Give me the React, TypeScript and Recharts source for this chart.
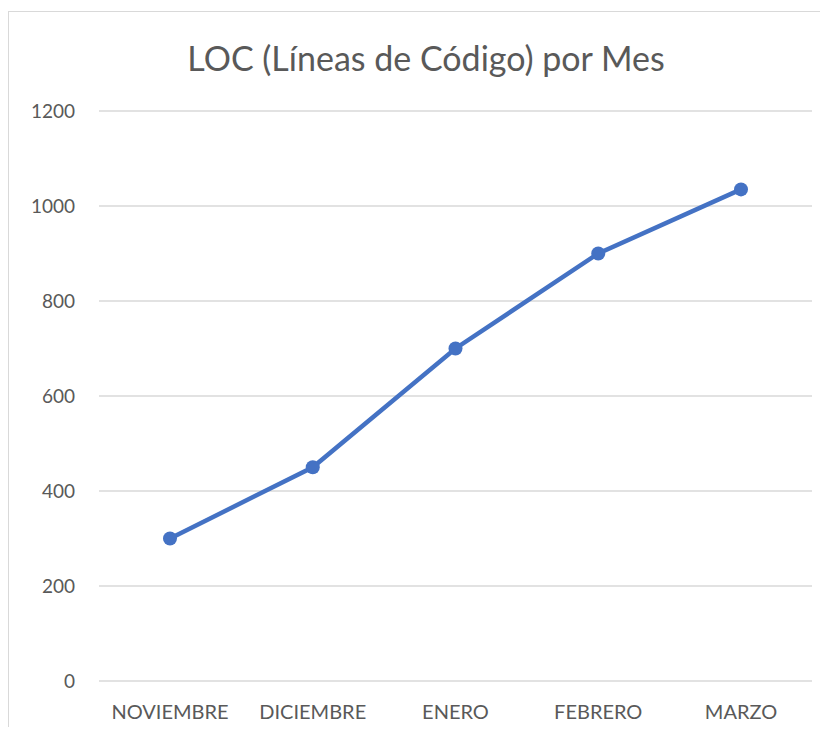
import { LineChart, Line, XAxis, YAxis, CartesianGrid } from 'recharts';

const months = ['NOVIEMBRE', 'DICIEMBRE', 'ENERO', 'FEBRERO', 'MARZO'];
const loc = [300, 450, 700, 900, 1035];
const yTicks = [0, 200, 400, 600, 800, 1000, 1200];

const chartData = months.map((month, i) => ({ month, loc: loc[i] }));

const FONT = 'Lato, "Open Sans", sans-serif';

export default function App() {
  return (
    <div
      style={{
        position: 'relative',
        marginTop: 3,
        width: 819,
        height: 715,
        borderTop: '1px solid #d9d9d9',
        borderLeft: '1px solid #d9d9d9',
        overflow: 'hidden',
        fontFamily: FONT,
      }}
    >
      {/* Title */}
      <div
        style={{
          position: 'absolute',
          left: 0,
          top: 26,
          width: 834,
          textAlign: 'center',
          fontSize: 34,
          color: '#595959',
          lineHeight: '40px',
        }}
      >
        LOC (Líneas de Código) por Mes
      </div>
      <LineChart
        width={819}
        height={715}
        data={chartData}
        margin={{ top: 99, right: 16, left: 0, bottom: 0 }}
      >
        <CartesianGrid vertical={false} stroke="#d9d9d9" strokeWidth={1.3} />
        <XAxis
          dataKey="month"
          axisLine={false}
          tickLine={false}
          tickSize={0}
          tickMargin={24}
          height={46}
          interval={0}
          padding={{ left: 71, right: 71 }}
          tick={{ fontSize: 20, fill: '#595959', fontFamily: FONT }}
        />
        <YAxis
          domain={[0, 1200]}
          ticks={yTicks}
          axisLine={false}
          tickLine={false}
          tickSize={0}
          tickMargin={24}
          width={90}
          tick={{ fontSize: 19, fill: '#595959', fontFamily: FONT }}
        />
        <Line
          type="linear"
          dataKey="loc"
          stroke="#4472c4"
          strokeWidth={4.5}
          dot={{ r: 7, fill: '#4472c4', stroke: '#4472c4', strokeWidth: 0 }}
          activeDot={false}
          isAnimationActive={false}
        />
      </LineChart>
    </div>
  );
}
